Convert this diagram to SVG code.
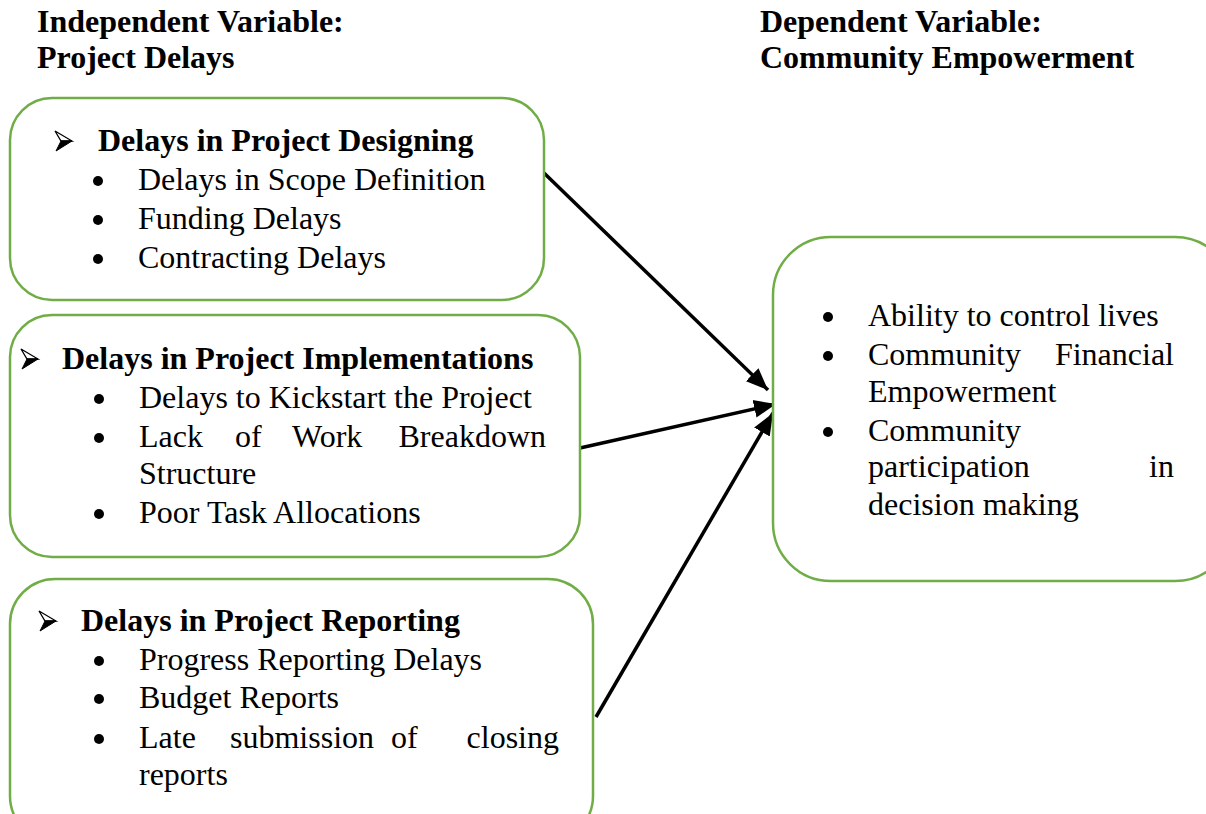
<svg xmlns="http://www.w3.org/2000/svg" width="1206" height="814" viewBox="0 0 1206 814">
  <style>
    .box { fill: #ffffff; stroke: #70ad47; stroke-width: 2.5; }
    .t { font-family: "Liberation Serif", "Times New Roman", serif; font-size: 32px; fill: #000; }
    .b { font-weight: bold; }
    .end { text-anchor: end; }
    .dot { fill: #000; }
    .conn { stroke: #000; stroke-width: 3.5; fill: none; marker-end: url(#head); }
  </style>
  <defs>
    <marker id="head" markerUnits="userSpaceOnUse" markerWidth="24" markerHeight="20" viewBox="0 0 24 20" refX="22" refY="10" orient="auto">
      <path d="M0,1 L22,10 L0,19 Z" fill="#000"/>
    </marker>
    <!-- three-d arrowhead bullet: outlined upper half, solid lower half -->
    <g id="chev">
      <path d="M1,-10 L18,0 L7,0 Z" fill="#fff" stroke="#000" stroke-width="1.3" stroke-linejoin="miter"/>
      <path d="M7,0 L18,0 L2,10 Z" fill="#000" stroke="#000" stroke-width="1"/>
    </g>
  </defs>

  <rect width="1206" height="814" fill="#ffffff"/>

  <!-- column titles -->
  <g id="title-independent">
    <text class="t b" x="37" y="32">Independent Variable:</text>
    <text class="t b" x="37" y="68">Project Delays</text>
  </g>
  <g id="title-dependent">
    <text class="t b" x="760" y="32">Dependent Variable:</text>
    <text class="t b" x="760" y="68">Community Empowerment</text>
  </g>

  <!-- connectors -->
  <g id="connectors">
    <line class="conn" x1="544" y1="173" x2="768" y2="390"/>
    <line class="conn" x1="580" y1="448" x2="776" y2="404"/>
    <line class="conn" x1="596" y1="717" x2="773" y2="413"/>
  </g>

  <!-- node: project designing -->
  <g id="node-designing">
    <rect class="box" x="10" y="98" width="534" height="202" rx="42"/>
    <use href="#chev" x="54" y="141"/>
    <text class="t b" x="98" y="151">Delays in Project Designing</text>
    <circle class="dot" cx="98" cy="181" r="5"/>
    <text class="t" x="138" y="190">Delays in Scope Definition</text>
    <circle class="dot" cx="98" cy="220" r="5"/>
    <text class="t" x="138" y="229">Funding Delays</text>
    <circle class="dot" cx="98" cy="259" r="5"/>
    <text class="t" x="138" y="268">Contracting Delays</text>
  </g>

  <!-- node: project implementations -->
  <g id="node-implementations">
    <rect class="box" x="10" y="315" width="570" height="242" rx="42"/>
    <use href="#chev" x="20" y="359"/>
    <text class="t b" x="62" y="369">Delays in Project Implementations</text>
    <circle class="dot" cx="99" cy="399" r="5"/>
    <text class="t" x="139" y="408">Delays to Kickstart the Project</text>
    <circle class="dot" cx="99" cy="438" r="5"/>
    <text class="t" x="139" y="447">Lack</text>
    <text class="t" x="235" y="447">of</text>
    <text class="t" x="292" y="447">Work</text>
    <text class="t end" x="546" y="447">Breakdown</text>
    <text class="t" x="139" y="484">Structure</text>
    <circle class="dot" cx="99" cy="514" r="5"/>
    <text class="t" x="139" y="523">Poor Task Allocations</text>
  </g>

  <!-- node: project reporting -->
  <g id="node-reporting">
    <rect class="box" x="10" y="579" width="583" height="262" rx="45"/>
    <use href="#chev" x="38" y="621"/>
    <text class="t b" x="81" y="631">Delays in Project Reporting</text>
    <circle class="dot" cx="99" cy="661" r="5"/>
    <text class="t" x="139" y="670">Progress Reporting Delays</text>
    <circle class="dot" cx="99" cy="699" r="5"/>
    <text class="t" x="139" y="708">Budget Reports</text>
    <circle class="dot" cx="99" cy="739" r="5"/>
    <text class="t" x="139" y="748">Late</text>
    <text class="t" x="230" y="748">submission</text>
    <text class="t" x="391" y="748">of</text>
    <text class="t end" x="559" y="748">closing</text>
    <text class="t" x="139" y="785">reports</text>
  </g>

  <!-- node: community empowerment -->
  <g id="node-empowerment">
    <rect class="box" x="773" y="237" width="460" height="344" rx="58"/>
    <circle class="dot" cx="828" cy="317" r="5"/>
    <text class="t" x="868" y="326">Ability to control lives</text>
    <circle class="dot" cx="828" cy="356" r="5"/>
    <text class="t" x="868" y="365">Community</text>
    <text class="t end" x="1174" y="365">Financial</text>
    <text class="t" x="868" y="402">Empowerment</text>
    <circle class="dot" cx="828" cy="432" r="5"/>
    <text class="t" x="868" y="441">Community</text>
    <text class="t" x="868" y="477">participation</text>
    <text class="t end" x="1174" y="477">in</text>
    <text class="t" x="868" y="515">decision making</text>
  </g>
</svg>
